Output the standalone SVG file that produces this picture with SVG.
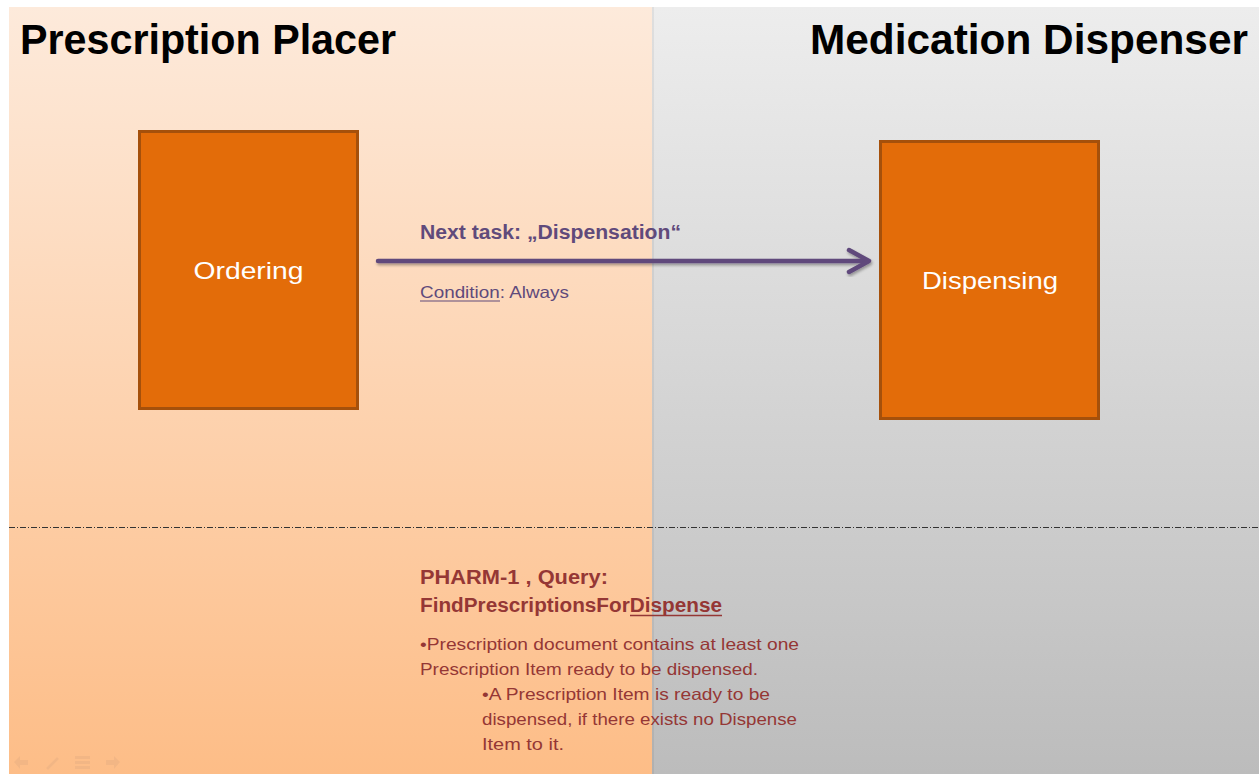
<svg xmlns="http://www.w3.org/2000/svg" width="1259" height="774" viewBox="0 0 1259 774">
<style>
.title{font-family:"Liberation Sans",Arial,sans-serif;font-weight:bold;font-size:42px;fill:#000}
.node rect{fill:#e36c09;stroke:#a5500b;stroke-width:3}
.node text{font-family:"Liberation Sans",Arial,sans-serif;font-size:24px;fill:#fff;text-anchor:middle}
.lbl{font-family:"Liberation Sans",Arial,sans-serif;fill:#604a7b}
.red{font-family:"Liberation Sans",Arial,sans-serif;fill:#953735}
.b{font-weight:bold}
</style>
<defs>
<linearGradient id="gl" x1="0" y1="0" x2="0" y2="1">
<stop offset="0" stop-color="#fdeadb"/>
<stop offset="1" stop-color="#fdbd87"/>
</linearGradient>
<linearGradient id="gr" x1="0" y1="0" x2="0" y2="1">
<stop offset="0" stop-color="#ededed"/>
<stop offset="1" stop-color="#bcbcbc"/>
</linearGradient>
<filter id="sh" x="-10%" y="-10%" width="130%" height="130%">
<feGaussianBlur in="SourceAlpha" stdDeviation="1.5"/>
<feOffset dx="1" dy="2"/>
<feComponentTransfer><feFuncA type="linear" slope="0.35"/></feComponentTransfer>
<feMerge><feMergeNode/><feMergeNode in="SourceGraphic"/></feMerge>
</filter>
</defs>
<rect x="0" y="0" width="1259" height="774" fill="#fff"/>
<g id="background">
<rect x="652" y="7" width="607" height="767" fill="url(#gr)"/>
<rect x="9" y="7" width="643" height="767" fill="url(#gl)"/>
<rect x="652" y="7" width="2" height="767" fill="#000" opacity="0.06"/>
<line x1="9" y1="527.5" x2="1259" y2="527.5" stroke="#333" stroke-width="1" stroke-dasharray="6,2,1,2"/>
</g>
<g id="nav" fill="#f0b585" opacity="0.8">
<path d="M14,762 l6,-6 v4 h8 v5 h-8 v4 z"/>
<path d="M46,768 l11,-11 l2,2 l-11,11 z"/>
<rect x="75" y="756" width="15" height="3"/>
<rect x="75" y="761" width="15" height="3"/>
<rect x="75" y="766" width="15" height="3"/>
<path d="M120,762 l-6,-6 v4 h-8 v5 h8 v4 z"/>
</g>
<text class="title" x="20" y="54" textLength="376" lengthAdjust="spacingAndGlyphs">Prescription Placer</text>
<text class="title" x="810" y="54" textLength="438" lengthAdjust="spacingAndGlyphs">Medication Dispenser</text>
<g id="node-ordering" class="node">
<rect x="139.5" y="131.5" width="218" height="277"/>
<text x="248.5" y="279" textLength="110" lengthAdjust="spacingAndGlyphs">Ordering</text>
</g>
<g id="node-dispensing" class="node">
<rect x="880.5" y="141.5" width="218" height="277"/>
<text x="990" y="289" textLength="136" lengthAdjust="spacingAndGlyphs">Dispensing</text>
</g>
<g id="connectors">
<g filter="url(#sh)" stroke="#604a7b" stroke-width="4.5" fill="none" stroke-linecap="round" stroke-linejoin="round">
<line x1="378" y1="261" x2="868" y2="261"/>
<polyline points="849,250 869,261 849,272"/>
</g>
<text class="lbl b" x="420" y="239" font-size="20" textLength="261" lengthAdjust="spacingAndGlyphs">Next task: „Dispensation“</text>
<text class="lbl" x="420" y="298" font-size="16.5" textLength="149" lengthAdjust="spacingAndGlyphs">Condition: Always</text>
<line x1="420" y1="301" x2="500" y2="301" stroke="#604a7b" stroke-width="1.2"/>
</g>
<g id="notes">
<text class="red b" x="420" y="584" font-size="19.5" textLength="188" lengthAdjust="spacingAndGlyphs">PHARM-1 , Query:</text>
<text class="red b" x="420" y="612" font-size="19.5" textLength="302" lengthAdjust="spacingAndGlyphs">FindPrescriptionsForDispense</text>
<line x1="630" y1="615.5" x2="722" y2="615.5" stroke="#953735" stroke-width="1.5"/>
<text class="red" x="420" y="650" font-size="16.5" textLength="379" lengthAdjust="spacingAndGlyphs">•Prescription document contains at least one</text>
<text class="red" x="420" y="675" font-size="16.5" textLength="338" lengthAdjust="spacingAndGlyphs">Prescription Item ready to be dispensed.</text>
<text class="red" x="482" y="700" font-size="16.5" textLength="288" lengthAdjust="spacingAndGlyphs">•A Prescription Item is ready to be</text>
<text class="red" x="482" y="725" font-size="16.5" textLength="315" lengthAdjust="spacingAndGlyphs">dispensed, if there exists no Dispense</text>
<text class="red" x="482" y="750" font-size="16.5" textLength="82" lengthAdjust="spacingAndGlyphs">Item to it.</text>
</g>
</svg>
